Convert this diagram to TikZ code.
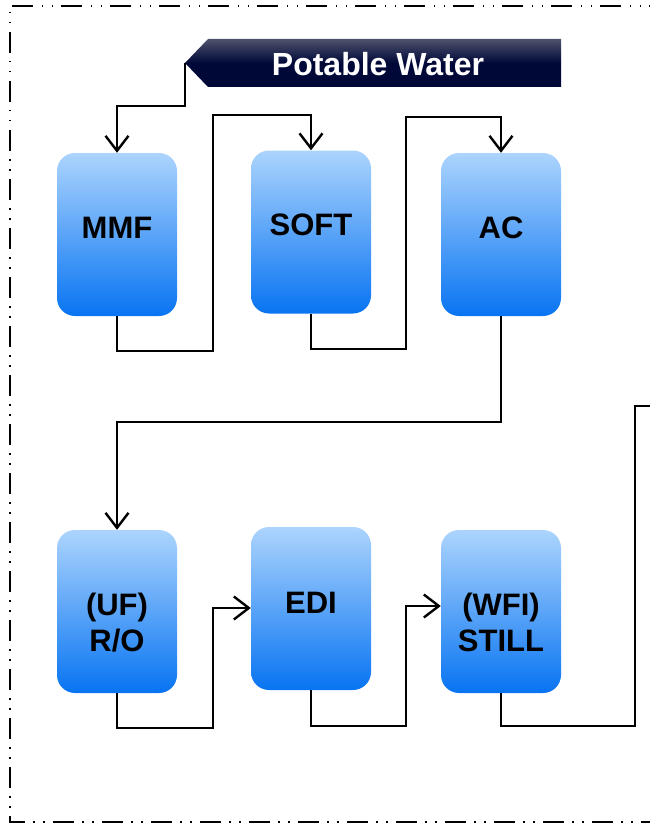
\documentclass[tikz,border=0pt]{standalone}
\usepackage{fontspec}
\setmainfont{Liberation Sans}
\usetikzlibrary{arrows.meta}

\definecolor{lightblue}{RGB}{172,212,253}
\definecolor{midblue}{RGB}{124,186,251}
\definecolor{deepblue}{RGB}{8,116,242}
\definecolor{navytop}{RGB}{78,82,108}
\definecolor{navybot}{RGB}{0,8,56}

\tikzset{
  unit/.style={rounded corners=18pt, minimum width=120pt, minimum height=163pt,
    top color=lightblue, middle color=midblue, bottom color=deepblue, inner sep=0pt},
  lbl/.style={font=\fontsize{31}{36}\selectfont\bfseries, align=center, inner sep=0pt},
  pipe/.style={line width=2.4pt, -{Straight Barb[length=15pt,width=23pt,line width=2.4pt]}},
  pipe0/.style={line width=2.4pt}
}

\begin{document}
\begin{tikzpicture}[x=1pt,y=-1pt]

\useasboundingbox (0,0) rectangle (650,824);

% frame
\draw[line width=2.4pt, dash pattern=on 21pt off 8pt on 1.5pt off 8.5pt on 1.5pt off 8.5pt]
    (670,6) -- (10,6) -- (10,822) -- (670,822);

% banner
\shade[top color=navytop, bottom color=navybot, middle color=navybot]
    (561,39) -- (208,39) -- (185,63) -- (208,87) -- (561,87) -- cycle;
\coordinate (tip) at (185,63);
\node[lbl, text=white, font=\fontsize{32}{36}\selectfont\bfseries] (pw) at (378,64) {Potable Water};

% units
\node[unit] (mmf)   at (117,234.5) {};
\node[unit] (soft)  at (311,232)   {};
\node[unit] (ac)    at (501,234.5) {};
\node[unit] (ro)    at (117,611.5) {};
\node[unit] (edi)   at (311,608.5) {};
\node[unit] (still) at (501,611.5) {};

\node[lbl] (mmf-t)   at ([yshift=7]mmf.center)     {MMF};
\node[lbl] (soft-t)  at ([yshift=7]soft.center)    {SOFT};
\node[lbl] (ac-t)    at ([yshift=7]ac.center)      {AC};
\node[lbl] (ro-t)    at ([yshift=-11]ro.center)    {(UF)\\R/O};
\node[lbl] (edi-t)   at ([yshift=6]edi.center)     {EDI};
\node[lbl] (still-t) at ([yshift=-11]still.center) {(WFI)\\STILL};

% piping
\draw[pipe] (tip) -- (185,106) -- (117,106) -- (mmf.north);
\draw[pipe] (mmf.south) -- (117,351) -- (213,351) -- (213,115) -- (311,115) -- (soft.north);
\draw[pipe] (soft.south) -- (311,349) -- (406,349) -- (406,117) -- (501,117) -- (ac.north);
\draw[pipe] (ac.south) -- (501,422) -- (117,422) -- (ro.north);
\draw[pipe] (ro.south) -- (117,728) -- (213,728) -- (213,608) -- (edi.west |- 0,608);
\draw[pipe] (edi.south) -- (311,726) -- (406,726) -- (406,606) -- (still.west |- 0,606);
\coordinate (out) at (660,406);
\draw[pipe0] (still.south) -- (501,726) -- (635,726) -- (635,406) -- (out);

\end{tikzpicture}
\end{document}
